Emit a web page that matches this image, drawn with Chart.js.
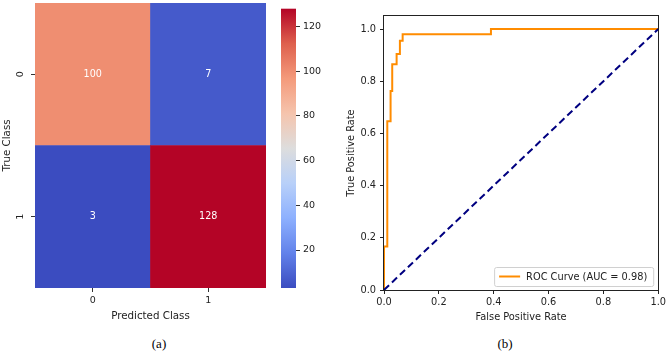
<!DOCTYPE html>
<html><head><meta charset="utf-8">
<script src="https://cdn.jsdelivr.net/npm/chart.js@4/dist/chart.umd.min.js"></script>
<style>
html,body{margin:0;padding:0;background:#fff;width:669px;height:353px;overflow:hidden;}
.c{position:absolute;}
.cap{position:absolute;font-family:"Liberation Serif","Times New Roman",serif;font-size:13px;font-weight:normal;color:#000;transform:translate(-50%,-50%);white-space:nowrap;opacity:0.99;background:#fff;}
</style></head><body>
<div class="c" style="left:0;top:0;width:275px;height:323px"><canvas id="hm"></canvas></div>
<div class="c" style="left:270px;top:0;width:60px;height:323px"><canvas id="cb"></canvas></div>
<div class="c" style="left:335px;top:0;width:334px;height:325px"><canvas id="roc"></canvas></div>
<div class="cap" style="left:159px;top:344px">(a)</div>
<div class="cap" style="left:505px;top:344px">(b)</div>
<script>
// ---- data ----
const classLabels = ["0", "1"];
const confusion = [[100, 7], [3, 128]];
const colorbarTicks = [20, 40, 60, 80, 100, 120];
const fpr = [0, 0, 0.012, 0.012, 0.024, 0.024, 0.03, 0.03, 0.046, 0.046, 0.058, 0.058, 0.068, 0.068, 0.39, 0.39, 1.0];
const tpr = [0, 0.167, 0.167, 0.647, 0.647, 0.763, 0.763, 0.865, 0.865, 0.904, 0.904, 0.955, 0.955, 0.98, 0.98, 1.0, 1.0];
const chanceX = [0, 1];
const chanceY = [0, 1];
const rocTicks = [0, 0.2, 0.4, 0.6, 0.8, 1.0];
const rocLabel = "ROC Curve (AUC = 0.98)";

// ---- styling helpers ----
const FONT = '"DejaVu Sans", sans-serif';
const FS_HM_TICK = 9.5, FS_HM_LABEL = 10.3, FS_CELL = 9.6, FS_ROC = 9.8;
const TXT = '#222';
Chart.defaults.font.family = FONT;
Chart.defaults.font.size = FS_HM_TICK;
Chart.defaults.color = TXT;

const cmStops = [[59,76,192],[98,130,234],[141,176,254],[184,208,249],[221,221,221],[245,196,173],[244,154,123],[222,96,77],[180,4,38]];
function coolwarm(t){
  t = Math.max(0, Math.min(1, t));
  const p = t * (cmStops.length - 1);
  const i = Math.min(Math.floor(p), cmStops.length - 2);
  const f = p - i, a = cmStops[i], b = cmStops[i+1];
  return 'rgb(' + [0,1,2].map(k => Math.round(a[k] + (b[k]-a[k])*f)).join(',') + ')';
}
const allVals = confusion.flat();
const vmin = Math.min(...allVals), vmax = Math.max(...allVals);

// ---- heatmap ----
const heatPlugin = {
  id: 'heat',
  afterDraw(chart){
    const ctx = chart.ctx;
    ctx.save();
    ctx.textAlign = 'center';
    ctx.textBaseline = 'middle';
    ctx.font = FS_CELL + 'px ' + FONT;
    chart.data.datasets.forEach((ds, di) => {
      chart.getDatasetMeta(di).data.forEach((el, ci) => {
        ctx.fillStyle = '#fff';
        ctx.fillText(String(confusion[ds.row][ci]), el.x, (el.y + el.base) / 2);
      });
    });
    const ys = chart.scales.y;
    ctx.font = FS_HM_TICK + 'px ' + FONT;
    ctx.fillStyle = TXT;
    classLabels.forEach((l, r) => {
      const y = ys.getPixelForValue(classLabels.length - r - 0.5);
      ctx.save();
      ctx.translate(ys.right - 14, y);
      ctx.rotate(-Math.PI / 2);
      ctx.fillText(l, 0, 0);
      ctx.restore();
    });
    ctx.restore();
  }
};
const rowsBottomUp = classLabels.map((_, r) => r).reverse();
new Chart(document.getElementById('hm'), {
  type: 'bar',
  data: {
    labels: classLabels,
    datasets: rowsBottomUp.map(r => ({
      label: 'row ' + classLabels[r],
      row: r,
      data: classLabels.map(() => 1),
      backgroundColor: confusion[r].map(v => coolwarm((v - vmin) / (vmax - vmin))),
      borderWidth: 0,
      barPercentage: 1,
      categoryPercentage: 1
    }))
  },
  options: {
    responsive: true, maintainAspectRatio: false, animation: false, events: [],
    layout: { padding: { top: 3, right: 9, left: 0, bottom: 0 } },
    plugins: { legend: { display: false }, tooltip: { enabled: false } },
    scales: {
      x: {
        stacked: true,
        grid: { offset: false, drawOnChartArea: false, drawTicks: true, tickLength: 4, color: '#333' },
        border: { display: false },
        ticks: { padding: 3, color: TXT, font: { size: FS_HM_TICK } },
        title: { display: true, text: 'Predicted Class', color: TXT, font: { size: FS_HM_LABEL }, padding: { top: 0, bottom: 0.5 } },
        afterFit(s){ s.height = 35; }
      },
      y: {
        stacked: true, min: 0, max: classLabels.length,
        afterBuildTicks(s){ s.ticks = classLabels.map((l, i) => ({ value: classLabels.length - i - 0.5 })); },
        ticks: { display: false },
        grid: { drawOnChartArea: false, drawTicks: true, tickLength: 4, color: '#333' },
        border: { display: false },
        title: { display: true, text: 'True Class', color: TXT, font: { size: FS_HM_LABEL }, padding: { top: 1.5, bottom: 0 } },
        afterFit(s){ s.width = 35; }
      }
    }
  },
  plugins: [heatPlugin]
});

// ---- colorbar ----
const gradPlugin = {
  id: 'grad',
  beforeDatasetsDraw(chart){
    const { ctx, chartArea: a } = chart;
    const g = ctx.createLinearGradient(0, a.bottom, 0, a.top);
    cmStops.forEach((c, i) => g.addColorStop(i / (cmStops.length - 1), 'rgb(' + c.join(',') + ')'));
    ctx.save();
    ctx.fillStyle = g;
    ctx.fillRect(a.left, a.top, a.right - a.left, a.bottom - a.top);
    ctx.restore();
  }
};
new Chart(document.getElementById('cb'), {
  type: 'scatter',
  data: { datasets: [] },
  options: {
    responsive: true, maintainAspectRatio: false, animation: false, events: [],
    layout: { padding: { top: 3, left: 11, right: 0, bottom: 35 } },
    plugins: { legend: { display: false }, tooltip: { enabled: false } },
    scales: {
      x: { display: false },
      y: {
        position: 'right', min: vmin, max: vmax,
        afterBuildTicks(s){ s.ticks = colorbarTicks.map(v => ({ value: v })); },
        ticks: { padding: 3, color: TXT, font: { size: FS_HM_TICK } },
        grid: { drawOnChartArea: false, drawTicks: true, tickLength: 4, color: '#333' },
        border: { display: false },
        afterFit(s){ s.width = 34; }
      }
    }
  },
  plugins: [gradPlugin]
});

// ---- ROC ----
const boxPlugin = {
  id: 'box',
  afterDatasetsDraw(chart){
    const { ctx, chartArea: a } = chart;
    ctx.save();
    ctx.strokeStyle = '#222';
    ctx.lineWidth = 1;
    ctx.strokeRect(Math.round(a.left) - 0.5, Math.round(a.top) - 0.5, Math.round(a.right - a.left) + 1, Math.round(a.bottom - a.top) + 1);
    ctx.restore();
  }
};
const legendPlugin = {
  id: 'rocLegend',
  afterDraw(chart){
    const { ctx, chartArea: a } = chart;
    const ds = chart.data.datasets.find(d => d.label === rocLabel);
    ctx.save();
    ctx.font = FS_ROC + 'px ' + FONT;
    const tw = ctx.measureText(ds.label).width;
    const w = 32 + tw + 6, h = 19;
    const x = a.right - 5 - w, y = a.bottom - 4 - h;
    ctx.beginPath();
    ctx.roundRect(x + 0.5, y + 0.5, w, h, 2);
    ctx.fillStyle = 'rgba(255,255,255,0.85)';
    ctx.fill();
    ctx.strokeStyle = '#d0d0d0';
    ctx.lineWidth = 1;
    ctx.stroke();
    ctx.beginPath();
    ctx.moveTo(x + 5, y + h / 2);
    ctx.lineTo(x + 26, y + h / 2);
    ctx.strokeStyle = ds.borderColor;
    ctx.lineWidth = ds.borderWidth;
    ctx.stroke();
    ctx.fillStyle = TXT;
    ctx.textBaseline = 'middle';
    ctx.textAlign = 'left';
    ctx.fillText(ds.label, x + 32, y + h / 2 + 0.5);
    ctx.restore();
  }
};
new Chart(document.getElementById('roc'), {
  type: 'scatter',
  data: {
    datasets: [
      { label: 'chance', data: chanceX.map((x, i) => ({ x, y: chanceY[i] })), showLine: true,
        borderColor: '#000080', borderWidth: 2, borderDash: [7, 4], pointRadius: 0, fill: false },
      { label: rocLabel, data: fpr.map((x, i) => ({ x, y: tpr[i] })), showLine: true,
        borderColor: '#ff8c00', borderWidth: 2, pointRadius: 0, fill: false, order: 1 }
    ]
  },
  options: {
    responsive: true, maintainAspectRatio: false, animation: false, events: [],
    layout: { padding: { top: 16, right: 9, left: 0, bottom: 0 } },
    plugins: { legend: { display: false }, tooltip: { enabled: false } },
    scales: {
      x: {
        min: 0, max: 1,
        afterBuildTicks(s){ s.ticks = rocTicks.map(v => ({ value: v })); },
        ticks: { padding: 3, color: TXT, font: { size: FS_ROC }, callback: v => Number(v).toFixed(1) },
        grid: { drawOnChartArea: false, drawTicks: true, tickLength: 4, color: '#222' },
        border: { display: false },
        title: { display: true, text: 'False Positive Rate', color: TXT, font: { size: FS_ROC }, padding: { top: 0, bottom: 1.5 } },
        afterFit(s){ s.height = 35; }
      },
      y: {
        min: 0, max: 1.05,
        afterBuildTicks(s){ s.ticks = rocTicks.map(v => ({ value: v })); },
        ticks: { padding: 4, color: TXT, font: { size: FS_ROC }, callback: v => Number(v).toFixed(1) },
        grid: { drawOnChartArea: false, drawTicks: true, tickLength: 4, color: '#222' },
        border: { display: false },
        title: { display: true, text: 'True Positive Rate', color: TXT, font: { size: FS_ROC }, padding: { top: 10.5, bottom: 0 } },
        afterFit(s){ s.width = 49; }
      }
    }
  },
  plugins: [boxPlugin, legendPlugin]
});
</script>
</body></html>
